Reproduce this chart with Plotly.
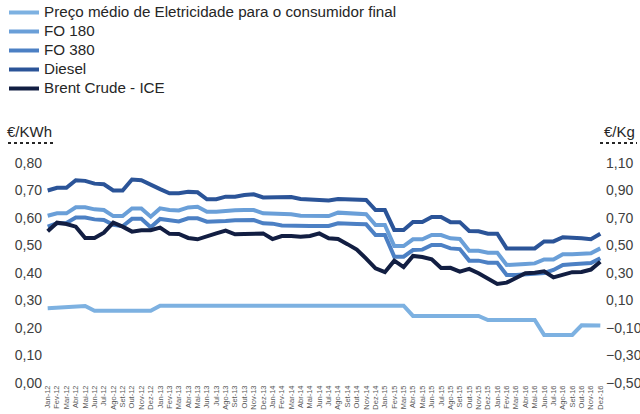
import plotly.graph_objects as go

categories = [
    "Jan-12", "Fev-12", "Mar-12", "Abr-12", "Mai-12", "Jun-12", "Jul-12", "Ago-12", "Set-12", "Out-12", "Nov-12", "Dez-12",
    "Jan-13", "Fev-13", "Mar-13", "Abr-13", "Mai-13", "Jun-13", "Jul-13", "Ago-13", "Set-13", "Out-13", "Nov-13", "Dez-13",
    "Jan-14", "Fev-14", "Mar-14", "Abr-14", "Mai-14", "Jun-14", "Jul-14", "Ago-14", "Set-14", "Out-14", "Nov-14", "Dez-14",
    "Jan-15", "Fev-15", "Mar-15", "Abr-15", "Mai-15", "Jun-15", "Jul-15", "Ago-15", "Set-15", "Out-15", "Nov-15", "Dez-15",
    "Jan-16", "Fev-16", "Mar-16", "Abr-16", "Mai-16", "Jun-16", "Jul-16", "Ago-16", "Set-16", "Out-16", "Nov-16", "Dez-16",
]

# €/KWh (left axis)
eletricidade = [
    0.272, 0.274, 0.276, 0.278, 0.280, 0.263, 0.263, 0.263, 0.263, 0.263, 0.263, 0.263,
    0.281, 0.281, 0.281, 0.281, 0.281, 0.281, 0.281, 0.281, 0.281, 0.281, 0.281, 0.281,
    0.281, 0.281, 0.281, 0.281, 0.281, 0.281, 0.281, 0.281, 0.281, 0.281, 0.281, 0.281,
    0.281, 0.281, 0.281, 0.244, 0.244, 0.244, 0.244, 0.244, 0.244, 0.244, 0.244, 0.229,
    0.229, 0.229, 0.229, 0.229, 0.229, 0.175, 0.175, 0.175, 0.175, 0.210, 0.210, 0.209,
]

# €/Kg (right axis)
fo180 = [
    0.716, 0.734, 0.734, 0.778, 0.778, 0.763, 0.758, 0.714, 0.714, 0.770, 0.770, 0.710,
    0.770, 0.758, 0.755, 0.777, 0.782, 0.746, 0.746, 0.753, 0.756, 0.758, 0.758, 0.734,
    0.734, 0.731, 0.727, 0.716, 0.714, 0.714, 0.714, 0.739, 0.734, 0.731, 0.727, 0.649,
    0.649, 0.496, 0.496, 0.545, 0.545, 0.576, 0.576, 0.552, 0.547, 0.462, 0.462, 0.448,
    0.448, 0.358, 0.358, 0.365, 0.370, 0.399, 0.399, 0.436, 0.436, 0.438, 0.443, 0.479,
]

fo380 = [
    0.637, 0.661, 0.664, 0.703, 0.703, 0.690, 0.685, 0.650, 0.640, 0.694, 0.694, 0.632,
    0.693, 0.683, 0.675, 0.698, 0.698, 0.673, 0.673, 0.678, 0.683, 0.685, 0.685, 0.661,
    0.659, 0.645, 0.642, 0.642, 0.642, 0.642, 0.642, 0.661, 0.656, 0.656, 0.654, 0.576,
    0.576, 0.419, 0.419, 0.467, 0.470, 0.504, 0.504, 0.479, 0.474, 0.390, 0.390, 0.375,
    0.375, 0.286, 0.286, 0.290, 0.295, 0.300, 0.322, 0.358, 0.363, 0.370, 0.372, 0.408,
]

diesel = [
    0.900, 0.920, 0.920, 0.975, 0.970, 0.950, 0.945, 0.900, 0.900, 0.980, 0.975, 0.940,
    0.910, 0.880, 0.880, 0.890, 0.887, 0.836, 0.836, 0.855, 0.855, 0.867, 0.872, 0.850,
    0.852, 0.855, 0.852, 0.838, 0.836, 0.831, 0.828, 0.838, 0.836, 0.831, 0.831, 0.758,
    0.758, 0.613, 0.613, 0.671, 0.671, 0.707, 0.707, 0.670, 0.670, 0.606, 0.603, 0.586,
    0.586, 0.479, 0.479, 0.479, 0.479, 0.530, 0.530, 0.560, 0.560, 0.553, 0.546, 0.585,
]

brent = [
    0.603, 0.666, 0.656, 0.637, 0.555, 0.555, 0.593, 0.666, 0.637, 0.601, 0.611, 0.611,
    0.630, 0.585, 0.584, 0.555, 0.545, 0.569, 0.588, 0.608, 0.581, 0.583, 0.588, 0.588,
    0.547, 0.569, 0.569, 0.564, 0.569, 0.588, 0.552, 0.547, 0.510, 0.470, 0.405, 0.334,
    0.306, 0.390, 0.343, 0.424, 0.416, 0.399, 0.336, 0.338, 0.310, 0.330, 0.298, 0.261,
    0.220, 0.230, 0.261, 0.298, 0.302, 0.312, 0.268, 0.290, 0.306, 0.308, 0.325, 0.382,
]

left_ticks = [0.0, 0.1, 0.2, 0.3, 0.4, 0.5, 0.6, 0.7, 0.8]
right_ticks = [-0.5, -0.3, -0.1, 0.1, 0.3, 0.5, 0.7, 0.9, 1.1]

series = [
    ("Preço médio de Eletricidade para o consumidor final", eletricidade, "#7DB1E1", "y"),
    ("FO 180", fo180, "#6A9FD8", "y2"),
    ("FO 380", fo380, "#4C80C4", "y2"),
    ("Diesel", diesel, "#2B5498", "y2"),
    ("Brent Crude - ICE", brent, "#121E42", "y2"),
]

fig = go.Figure()
for name, vals, color, ax in series:
    fig.add_trace(go.Scatter(
        x=categories, y=vals, mode="lines", yaxis=ax,
        name='<span style="font-size:15.2px">' + name + '</span>',
        line=dict(color=color, width=4),
    ))

W, H = 640, 414
L, R, T, B = 43, 35, 163, 31
pw, ph = W - L - R, H - T - B

def px_x(p):
    return (p - L) / pw

def px_y(p):
    return (H - B - p) / ph

fig.update_layout(
    template="none",
    width=W, height=H,
    margin=dict(l=L, r=R, t=T, b=B, pad=0, autoexpand=False),
    paper_bgcolor="white", plot_bgcolor="white",
    separators=",.",
    font=dict(family="Liberation Sans, Arial, sans-serif", color="#404040", size=13),
    showlegend=True,
    legend=dict(
        x=px_x(4), y=px_y(-2), xanchor="left", yanchor="top",
        font=dict(size=12.3, color="#262626"),
        bgcolor="rgba(0,0,0,0)", tracegroupgap=0, itemwidth=30,
    ),
    xaxis=dict(
        type="category", showgrid=False, zeroline=False, showline=False,
        automargin=False,
        tickangle=-90, tickfont=dict(size=7.5, color="#595959"),
        ticks="", range=[-0.5, len(categories) - 0.5],
    ),
    yaxis=dict(
        range=[0, 0.8], tickvals=left_ticks, tickformat=".2f",
        showgrid=False, zeroline=False, showline=False, automargin=False,
        tickfont=dict(size=14, color="#404040"), ticks="",
    ),
    yaxis2=dict(
        range=[-0.5, 1.1], tickvals=right_ticks, tickformat=".2f",
        overlaying="y", side="right", automargin=False,
        showgrid=False, zeroline=False, showline=False,
        tickfont=dict(size=14, color="#404040"), ticks="",
    ),
    annotations=[
        dict(text="€/KWh", xref="paper", yref="paper", x=px_x(5), y=px_y(131),
             xanchor="left", yanchor="middle", showarrow=False,
             font=dict(size=15, color="#262626")),
        dict(text="€/Kg", xref="paper", yref="paper", x=px_x(637), y=px_y(131),
             xanchor="right", yanchor="middle", showarrow=False,
             font=dict(size=15, color="#262626")),
    ],
    shapes=[
        dict(type="line", xref="paper", yref="paper", x0=px_x(8), x1=px_x(53),
             y0=px_y(143), y1=px_y(143), line=dict(color="#262626", width=2, dash="dot")),
        dict(type="line", xref="paper", yref="paper", x0=px_x(600), x1=px_x(637),
             y0=px_y(143), y1=px_y(143), line=dict(color="#262626", width=2, dash="dot")),
    ],
)

fig.write_html("out.html", config={"displayModeBar": False},
               post_script="document.body.style.margin='0px';")
